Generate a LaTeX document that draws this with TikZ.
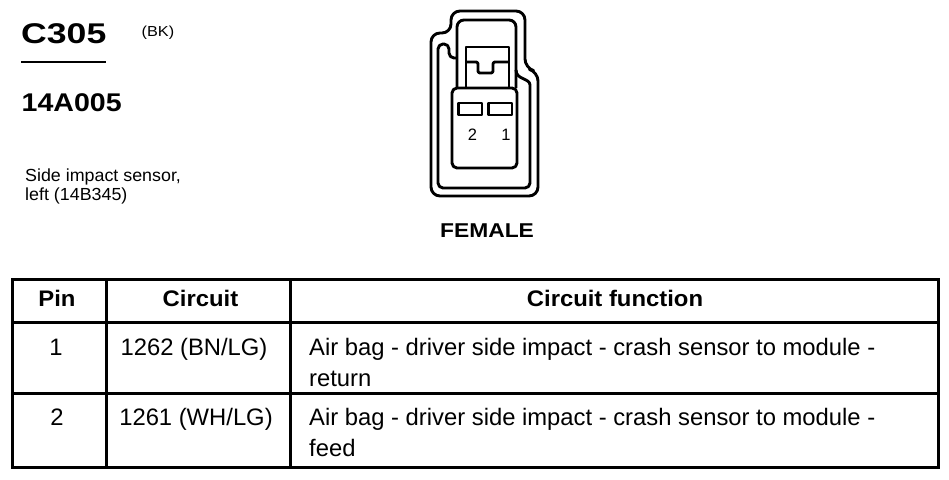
\documentclass[tikz,border=0pt]{standalone}
\usepackage{fontspec}
\setmainfont{Liberation Sans}
\usepackage{graphicx}
\newcommand{\sx}[2]{\scalebox{#1}[1]{#2}}
\tikzset{
  conn/.style={line width=2.9pt, line join=round},
  tline/.style={line width=3pt, line cap=rect},
  lbl/.style={inner sep=0pt, anchor=base west},
  clbl/.style={inner sep=0pt, anchor=base},
  body/.style={font=\fontsize{23.8}{30}\selectfont},
  head/.style={font=\bfseries\fontsize{22.5}{28}\selectfont},
}
\begin{document}
\begin{tikzpicture}[x=1pt,y=-1pt]
\useasboundingbox (0,0) rectangle (949,479);
\fill[white] (0,0) rectangle (949,479);

% ---- title block ----
\node[lbl, font=\bfseries\fontsize{28.5}{30}\selectfont] (c305) at (21,43.5) {\sx{1.25}{C305}};
\draw[line width=2.2pt] (21,62) -- (106,62);
\node[lbl, font=\fontsize{14.5}{16}\selectfont] (bk) at (141.5,36.5) {\sx{1.12}{(BK)}};
\node[lbl, font=\bfseries\fontsize{25.6}{28}\selectfont] (num) at (21.5,111.5) {\sx{1.115}{14A005}};
\node[lbl, font=\fontsize{17.5}{20}\selectfont] (desc1) at (25,181) {\sx{1.02}{Side impact sensor,}};
\node[lbl, font=\fontsize{17.5}{20}\selectfont] (desc2) at (25,200) {\sx{1.02}{left (14B345)}};

% ---- connector face ----
% outer contour
\draw[conn, rounded corners=9pt] (431,196) -- (431,33) -- (451,33) -- (451,11) -- (525,11) -- (525,68) -- (538,72) -- (538,196) -- cycle;
% tower inner
\draw[conn, rounded corners=7pt] (457,88) -- (457,20) -- (516,20) -- (516,88);
% inner contour
\draw[conn, rounded corners=5pt] (516,70) .. controls (516,80) and (530,78) .. (530,90) -- (530,188) -- (438,188) -- (438,44) -- (449,44) -- (449,58) -- (457,58);
% latch
\draw[conn] (466,88) -- (466,47) -- (509,47) -- (509,88);
\draw[conn, rounded corners=2pt] (466,62) -- (478,62) -- (478,73) -- (493,73) -- (493,62) -- (509,62);
% lower body
\draw[conn, fill=white, rounded corners=5pt] (452,88) rectangle (517,168);
% pins
\draw[conn] (458.5,103) rectangle (482,115);
\draw[conn] (488.5,103) rectangle (512,115);
\node[clbl, font=\fontsize{16.5}{18}\selectfont] (p2) at (472.5,140) {2};
\node[clbl, font=\fontsize{16.5}{18}\selectfont] (p1) at (506,140) {1};
\node[lbl, font=\bfseries\fontsize{20}{22}\selectfont] (fem) at (440,237.7) {\sx{1.14}{FEMALE}};

% ---- table ----
\draw[tline] (12,279) rectangle (938,467);
\draw[tline] (12,322) -- (938,322);
\draw[tline] (12,393.5) -- (938,393.5);
\draw[tline] (106,279) -- (106,467);
\draw[tline] (290,279) -- (290,467);

\node[clbl, head] (hpin) at (57,306) {\sx{1.06}{Pin}};
\node[clbl, head] (hcir) at (200.5,306) {\sx{1.06}{Circuit}};
\node[clbl, head] (hfun) at (615,306) {\sx{1.06}{Circuit function}};

\node[clbl, body] (r1p) at (56,355) {1};
\node[clbl, body] (r1c) at (194,355) {1262 (BN/LG)};
\node[lbl, body] (r1fa) at (309,355) {Air bag - driver side impact - crash sensor to module -};
\node[lbl, body] (r1fb) at (309,386) {return};

\node[clbl, body] (r2p) at (57,425) {2};
\node[clbl, body] (r2c) at (196,425) {1261 (WH/LG)};
\node[lbl, body] (r2fa) at (309,425) {Air bag - driver side impact - crash sensor to module -};
\node[lbl, body] (r2fb) at (309,456) {feed};
\end{tikzpicture}
\end{document}
